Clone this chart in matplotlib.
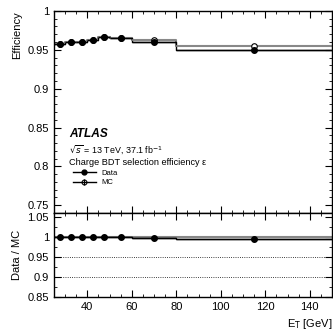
import numpy as np
import matplotlib
matplotlib.use("Agg")
import matplotlib.pyplot as plt
from matplotlib.ticker import MultipleLocator
from matplotlib.lines import Line2D

plt.rcParams['font.family'] = ['Liberation Sans', 'DejaVu Sans']

# bins in E_T [GeV]
edges = [25, 30, 35, 40, 45, 50, 60, 80, 150]
eff_data = [0.957, 0.960, 0.960, 0.962, 0.9665, 0.9655, 0.9595, 0.950]
eff_mc = [0.957, 0.960, 0.960, 0.962, 0.9665, 0.9655, 0.962, 0.9545]
err_data = [0.0012, 0.0008, 0.0007, 0.0007, 0.0007, 0.0006, 0.0008, 0.0010]
ratio = [1.000, 1.000, 1.000, 1.000, 0.999, 0.999, 0.997, 0.995]
err_ratio = [0.0015, 0.0010, 0.0009, 0.0009, 0.0009, 0.0008, 0.0010, 0.0012]

edges = np.array(edges)
centers = 0.5 * (edges[1:] + edges[:-1])
halfw = 0.5 * (edges[1:] - edges[:-1])

fig = plt.figure(figsize=(3.33, 3.31), dpi=100)
ax = fig.add_axes([0.162, 0.3565, 0.835, 0.6105])
rx = fig.add_axes([0.162, 0.1027, 0.835, 0.2538])

# upper panel
ax.step(edges, list(eff_mc) + [eff_mc[-1]], where='post', color='#888888', lw=1.5)
ax.step(edges, list(eff_data) + [eff_data[-1]], where='post', color='black', lw=1.0)
ax.errorbar(centers, eff_mc, xerr=halfw, fmt='o', mfc='white', mec='black',
            color='#888888', ms=4, mew=0.8, lw=1.2)
ax.errorbar(centers, eff_data, xerr=halfw, yerr=err_data, fmt='o', color='black',
            ms=4, lw=1.0)

ax.set_xlim(25, 150)
ax.set_ylim(0.74, 1.0)
ax.set_ylabel('Efficiency', fontsize=8, loc='top')
ax.set_yticks([0.75, 0.8, 0.85, 0.9, 0.95, 1.0])
ax.set_yticklabels(['0.75', '0.8', '0.85', '0.9', '0.95', '1'])
ax.yaxis.set_minor_locator(MultipleLocator(0.01))
ax.xaxis.set_major_locator(MultipleLocator(20))
ax.xaxis.set_minor_locator(MultipleLocator(5))
ax.tick_params(labelbottom=False)

ax.text(0.055, 0.391, 'ATLAS', transform=ax.transAxes, fontsize=8.6, va='center',
        fontweight='bold', fontstyle='italic')
ax.text(0.055, 0.313, r'$\sqrt{s}$ = 13 TeV, 37.1 fb$^{-1}$', transform=ax.transAxes,
        fontsize=6.4, va='center')
ax.text(0.055, 0.2475, 'Charge BDT selection efficiency ε', transform=ax.transAxes,
        fontsize=6.6, va='center')
h_data = Line2D([], [], color='black', marker='o', ms=3.5, lw=1.0)
h_mc = (Line2D([], [], color='black', lw=1.0),
        Line2D([], [], color='black', marker='|', ms=5, mew=0.8, ls='none'),
        Line2D([], [], color='black', marker='o', mfc='none', ms=3.5, mew=0.8, ls='none'))
ax.legend([h_data, h_mc], ['Data', 'MC'], loc='upper left', bbox_to_anchor=(0.068, 0.214),
          frameon=False, fontsize=5.5, handlelength=3.0, labelspacing=0.25,
          borderpad=0, borderaxespad=0, handletextpad=0.7)

# ratio panel
rx.axhline(0.95, color='black', ls=':', lw=0.6)
rx.axhline(0.90, color='black', ls=':', lw=0.6)
rx.axhline(1.0, color='#888888', lw=1.5)
rx.step(edges, list(ratio) + [ratio[-1]], where='post', color='black', lw=1.0)
rx.errorbar(centers, ratio, xerr=halfw, yerr=err_ratio, fmt='o', color='black',
            ms=4, lw=1.0)
rx.set_xlim(25, 150)
rx.set_ylim(0.85, 1.06)
rx.set_yticks([0.85, 0.9, 0.95, 1.0, 1.05])
rx.set_yticklabels(['0.85', '0.9', '0.95', '1', '1.05'])
rx.yaxis.set_minor_locator(MultipleLocator(0.025))
rx.xaxis.set_major_locator(MultipleLocator(20))
rx.xaxis.set_minor_locator(MultipleLocator(5))
rx.set_ylabel('Data / MC', fontsize=8)
rx.set_xlabel(r'E$_{\mathrm{T}}$ [GeV]', fontsize=8, loc='right')

for a in (ax, rx):
    a.tick_params(which='both', direction='in', top=True, right=True, labelsize=8)
    a.tick_params(which='major', length=5)
    a.tick_params(which='minor', length=2.5)
    for s in a.spines.values():
        s.set_linewidth(1.0)

fig.savefig('out.png', dpi=100)
